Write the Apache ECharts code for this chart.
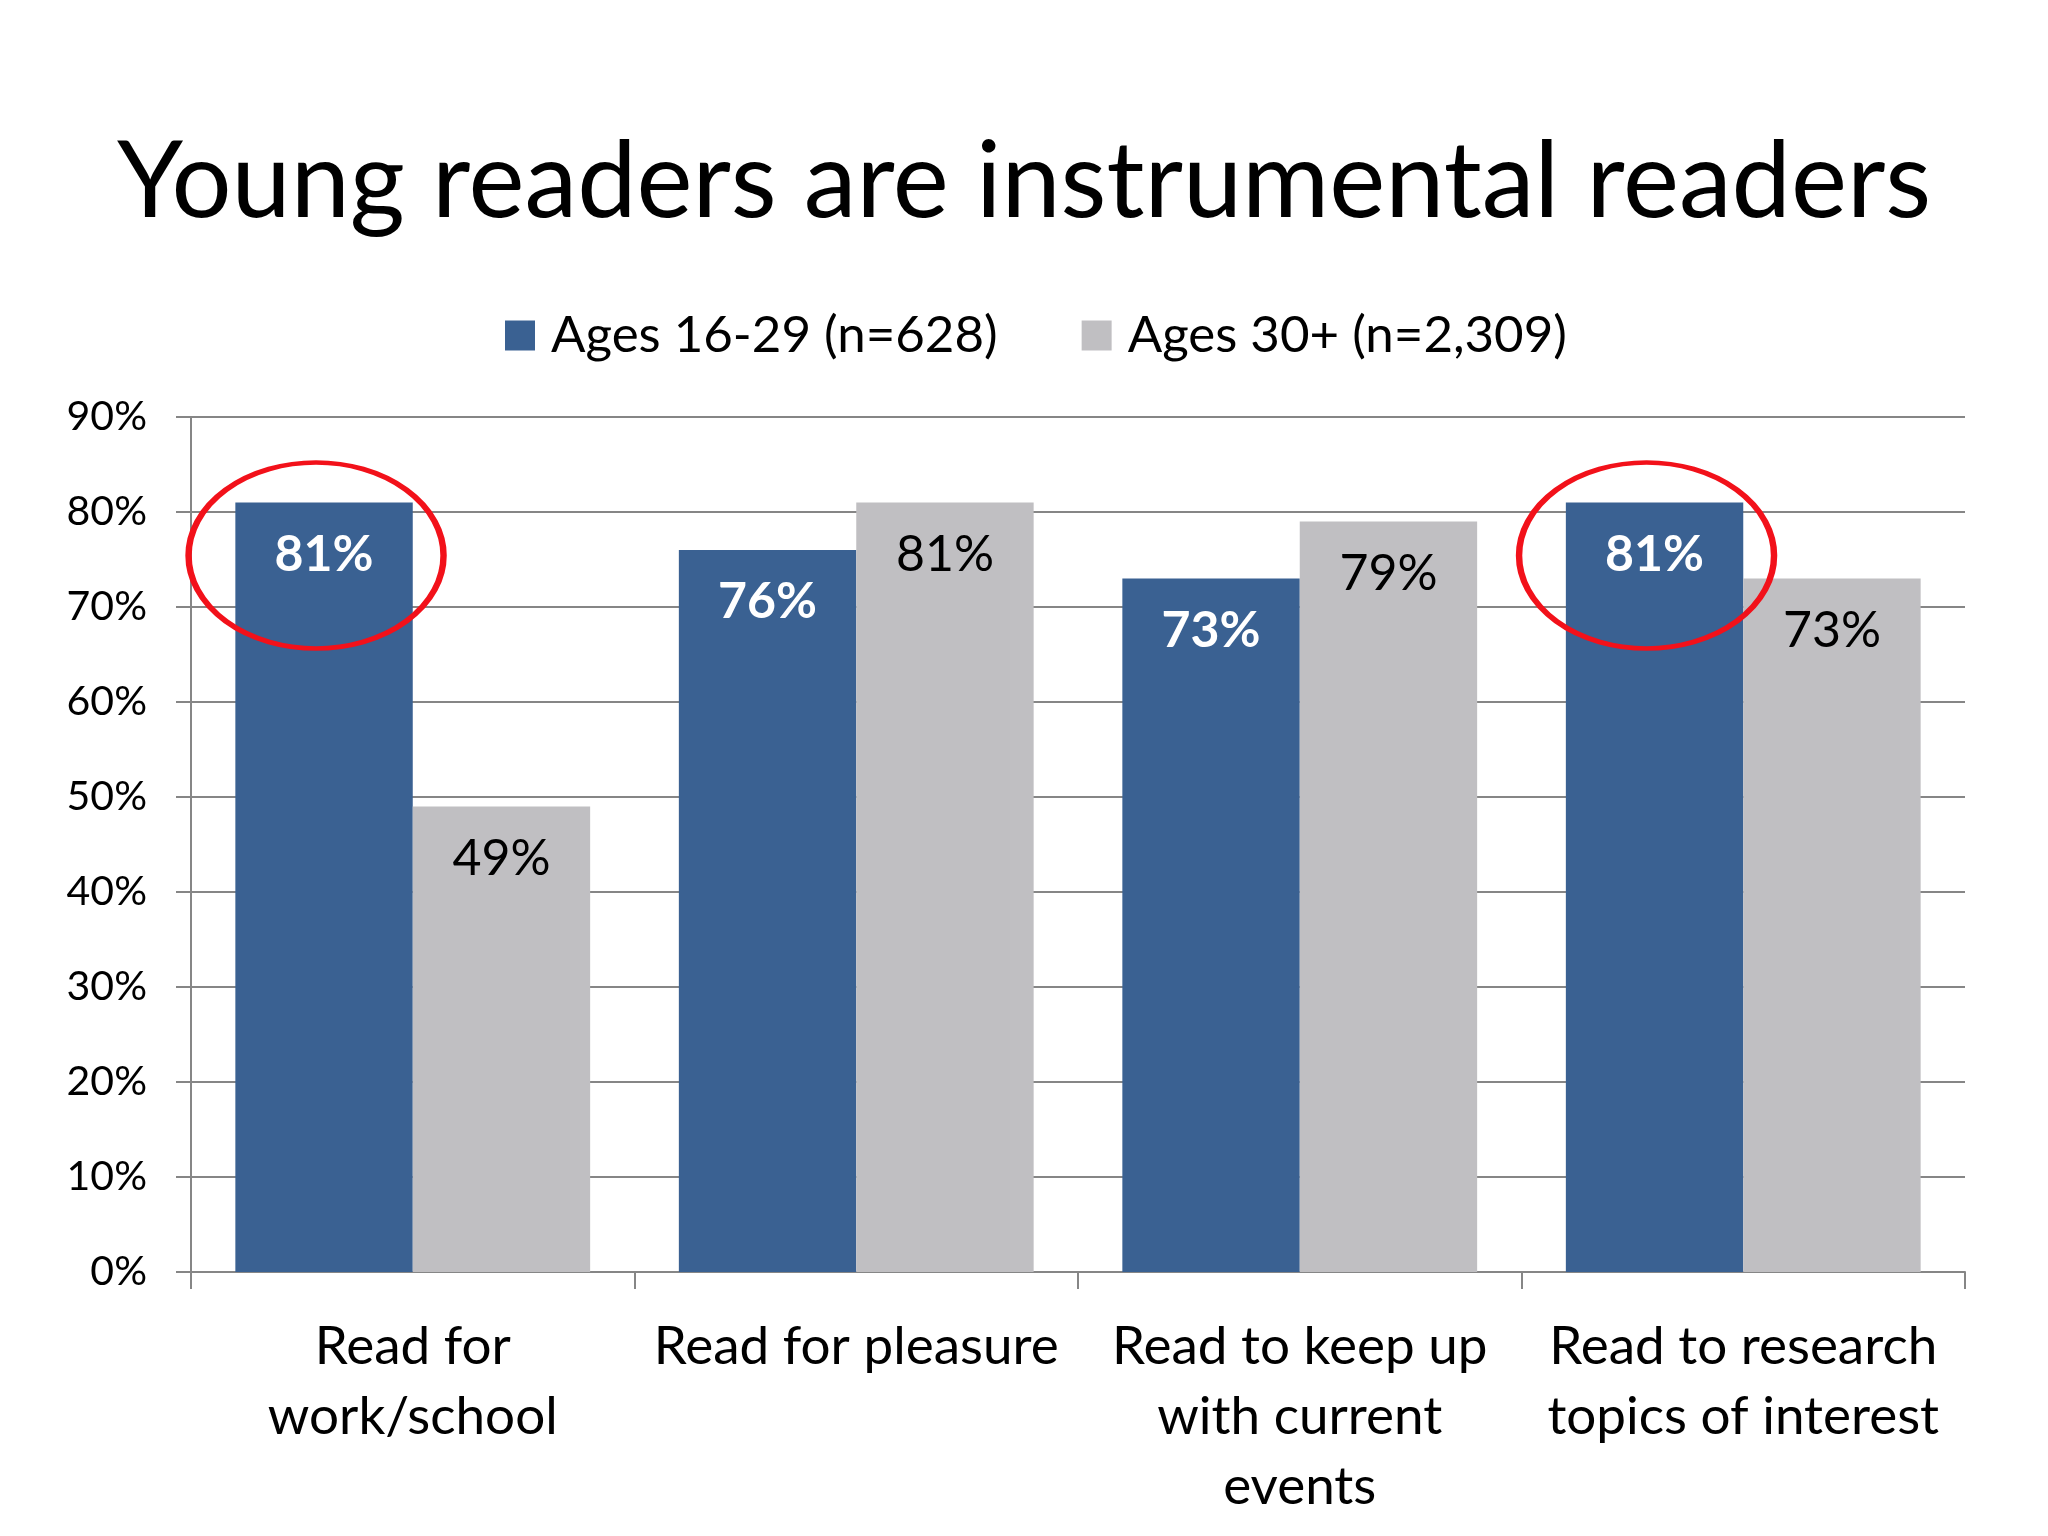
<!DOCTYPE html>
<html>
<head>
<meta charset="utf-8">
<title>Young readers are instrumental readers</title>
<script src="https://cdn.jsdelivr.net/npm/echarts@6/dist/echarts.min.js"></script>
<style>
  html, body { margin: 0; padding: 0; background: #fff; }
  #chart { width: 2048px; height: 1536px; }
</style>
</head>
<body>
<div id="chart"></div>
<script>
// categories (line breaks as on the slide)
const categories = [
  'Read for\nwork/school',
  'Read for pleasure',
  'Read to keep up\nwith current\nevents',
  'Read to research\ntopics of interest'
];
const seriesNames = ['Ages 16-29 (n=628)', 'Ages 30+ (n=2,309)'];
const youngValues = [81, 76, 73, 81];
const olderValues = [49, 81, 79, 73];
// bars circled in red on the slide
const circledIndex = [0, 3];
const yTicks = { min: 0, max: 90, interval: 10 };

const FONT = 'Lato';

function renderChart() {
  const dom = document.getElementById('chart');
  const chart = echarts.init(dom);
  const option = {
    animation: false,
    backgroundColor: '#fff',
    textStyle: { fontFamily: FONT },
    title: {
      text: 'Young readers are instrumental readers',
      left: 'center',
      top: 125,
      textStyle: {
        fontFamily: FONT,
        fontSize: 106,
        fontWeight: 'normal',
        color: '#000'
      }
    },
    legend: {
      data: seriesNames,
      left: 500,
      top: 305,
      icon: 'rect',
      itemWidth: 30,
      itemHeight: 30,
      itemGap: 84,
      textStyle: {
        fontFamily: FONT,
        fontSize: 51,
        color: '#000',
        padding: [0, 0, 0, 11]
      }
    },
    grid: {
      left: 191,
      right: 83,
      top: 417,
      bottom: 264,
      containLabel: false
    },
    xAxis: {
      type: 'category',
      data: categories,
      axisLine: { lineStyle: { color: '#868686', width: 2 } },
      axisTick: {
        show: true,
        alignWithLabel: false,
        length: 17,
        lineStyle: { color: '#868686', width: 2 }
      },
      axisLabel: {
        interval: 0,
        margin: 40,
        fontFamily: FONT,
        fontSize: 53,
        lineHeight: 70,
        color: '#000'
      },
      splitLine: { show: false }
    },
    yAxis: {
      type: 'value',
      min: yTicks.min,
      max: yTicks.max,
      interval: yTicks.interval,
      axisLine: { show: true, lineStyle: { color: '#868686', width: 2 } },
      axisTick: {
        show: true,
        length: 15,
        lineStyle: { color: '#868686', width: 2 }
      },
      axisLabel: {
        formatter: '{value}%',
        margin: 44,
        fontFamily: FONT,
        fontSize: 41,
        color: '#000'
      },
      splitLine: { show: true, lineStyle: { color: '#868686', width: 2 } }
    },
    series: [
      {
        name: seriesNames[0],
        type: 'bar',
        data: youngValues,
        barGap: '0%',
        barCategoryGap: '20%',
        itemStyle: { color: '#3a6192' },
        label: {
          show: true,
          position: 'insideTop',
          distance: 27,
          formatter: '{c}%',
          fontFamily: FONT,
          fontSize: 50,
          fontWeight: 'bold',
          color: '#fff'
        },
        markPoint: {
          symbol: 'path://M0,50A50,50,0,1,1,100,50A50,50,0,1,1,0,50Z',
          symbolSize: [255, 186],
          symbolOffset: [-8, 53],
          silent: true,
          label: { show: false },
          itemStyle: {
            color: 'rgba(0,0,0,0)',
            borderColor: '#f2111a',
            borderWidth: 5.5
          },
          data: circledIndex.map(function (i) {
            return { coord: [i, youngValues[i]] };
          })
        }
      },
      {
        name: seriesNames[1],
        type: 'bar',
        data: olderValues,
        barGap: '0%',
        barCategoryGap: '20%',
        itemStyle: { color: '#c0bfc2' },
        label: {
          show: true,
          position: 'insideTop',
          distance: 27,
          formatter: '{c}%',
          fontFamily: FONT,
          fontSize: 50,
          color: '#000'
        }
      }
    ]
  };
  chart.setOption(option, true);
}

renderChart();
</script>
</body>
</html>
